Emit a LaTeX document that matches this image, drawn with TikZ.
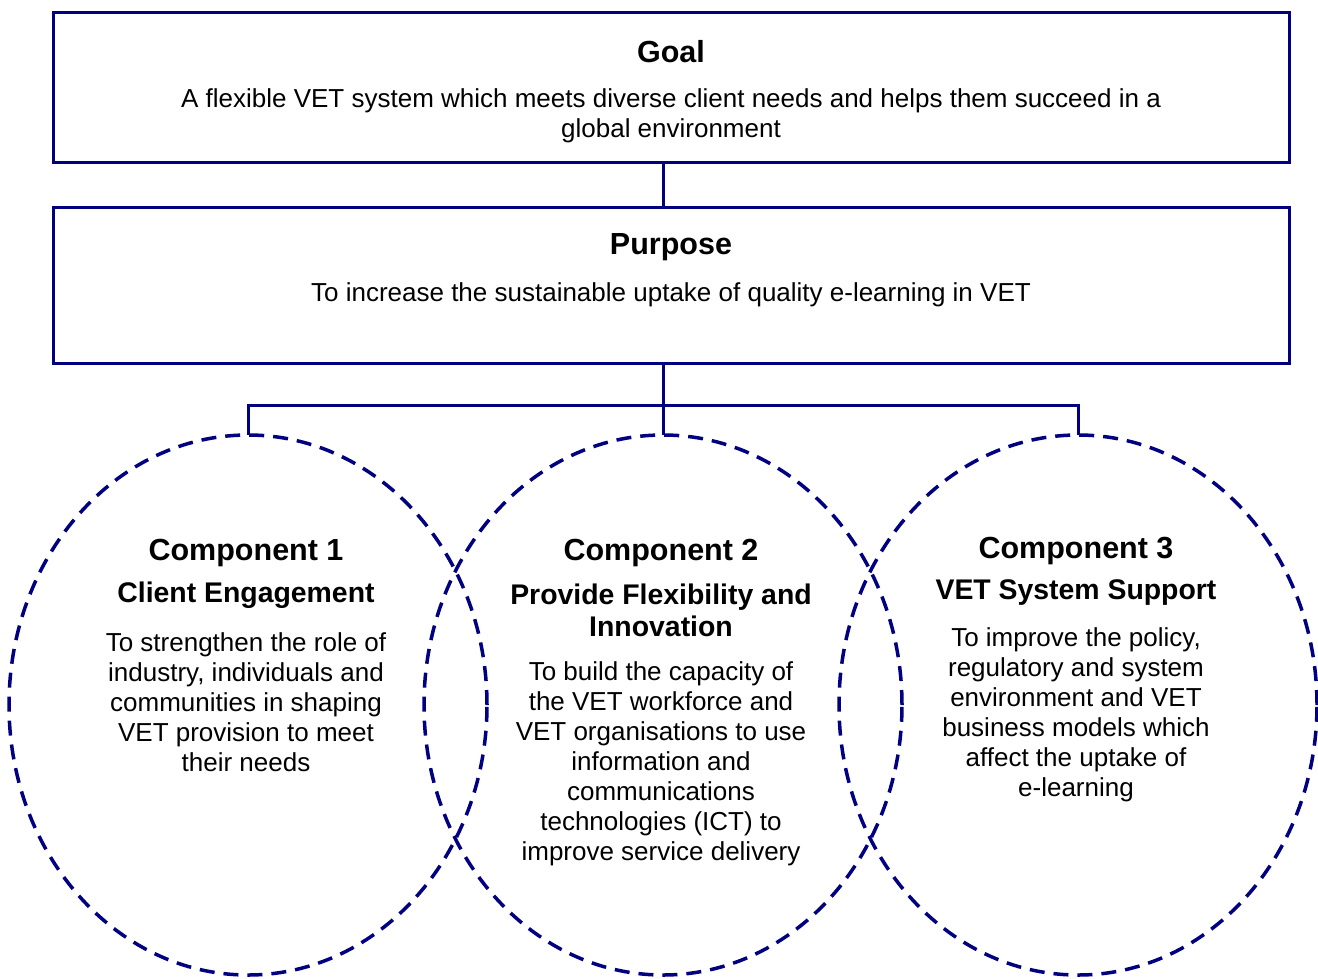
\documentclass[tikz,border=0pt]{standalone}
\usepackage{fontspec}
\setmainfont{Liberation Sans}
\usepackage{tikz}
\usetikzlibrary{shapes.geometric, positioning}
\definecolor{navyline}{RGB}{0,0,128}
\tikzset{
    levelbox/.style={rectangle, draw=navyline, line width=3pt, minimum width=1236pt, inner sep=0pt, outer sep=0pt},
    component/.style={ellipse, draw=navyline, line width=3.5pt, dash pattern=on 15pt off 9pt, minimum width=478pt, minimum height=540pt, inner sep=0pt, outer sep=0pt},
    heading/.style={font=\fontsize{30.5}{34}\selectfont\bfseries, inner sep=0pt},
    subheading/.style={font=\fontsize{28.4}{32}\selectfont\bfseries, align=center, inner sep=0pt},
    bodytext/.style={font=\fontsize{26}{30}\selectfont, align=center, inner sep=0pt},
    link/.style={draw=navyline, line width=3pt}
}

\begin{document}
\begin{tikzpicture}[x=1pt, y=-1pt]
    \useasboundingbox (0,0) rectangle (1318,978);

    % goal and purpose
    \node (goal) [levelbox, minimum height=150pt] at (671,87) {};
    \node (purpose) [levelbox, minimum height=156pt, below=45pt of goal] {};
    \node (goaltitle) [heading] at (671,52) {Goal};
    \node (goaltext) [bodytext] at (671,116) {A flexible VET system which meets diverse client needs and helps them succeed in a\\global environment};
    \node (purposetitle) [heading] at (671,247) {Purpose};
    \node (purposetext) [bodytext] at (671,295) {To increase the sustainable uptake of quality e-learning in VET};

    % components
    \node (c1) [component] at (248,705) {};
    \node (c2) [component, right=-63pt of c1] {};
    \node (c3) [component, right=-63pt of c2] {};

    \node (head1) [heading] at (246,553) {Component 1};
    \node (sub1) [subheading] at (246,595) {Client Engagement};
    \node (body1) [bodytext] at (246,702) {To strengthen the role of\\industry, individuals and\\communities in shaping\\VET provision to meet\\their needs};

    \node (head2) [heading] at (661,553) {Component 2};
    \node (sub2) [subheading] at (661,610) {Provide Flexibility and\\Innovation};
    \node (body2) [bodytext] at (661,764) {To build the capacity of\\the VET workforce and\\VET organisations to use\\information and\\communications\\technologies (ICT) to\\improve service delivery};

    \node (head3) [heading] at (1076,551) {Component 3};
    \node (sub3) [subheading] at (1076,593) {VET System Support};
    \node (body3) [bodytext] at (1076,715) {To improve the policy,\\regulatory and system\\environment and VET\\business models which\\affect the uptake of\\e-learning};

    % connectors
    \coordinate (bus) at (663,405);
    \draw[link] (goal.south -| c2.north) -- (purpose.north -| c2.north);
    \draw[link] (purpose.south -| c2.north) -- (c2.north);
    \draw[link] (c1.north) |- (bus) -| (c3.north);
\end{tikzpicture}
\end{document}
